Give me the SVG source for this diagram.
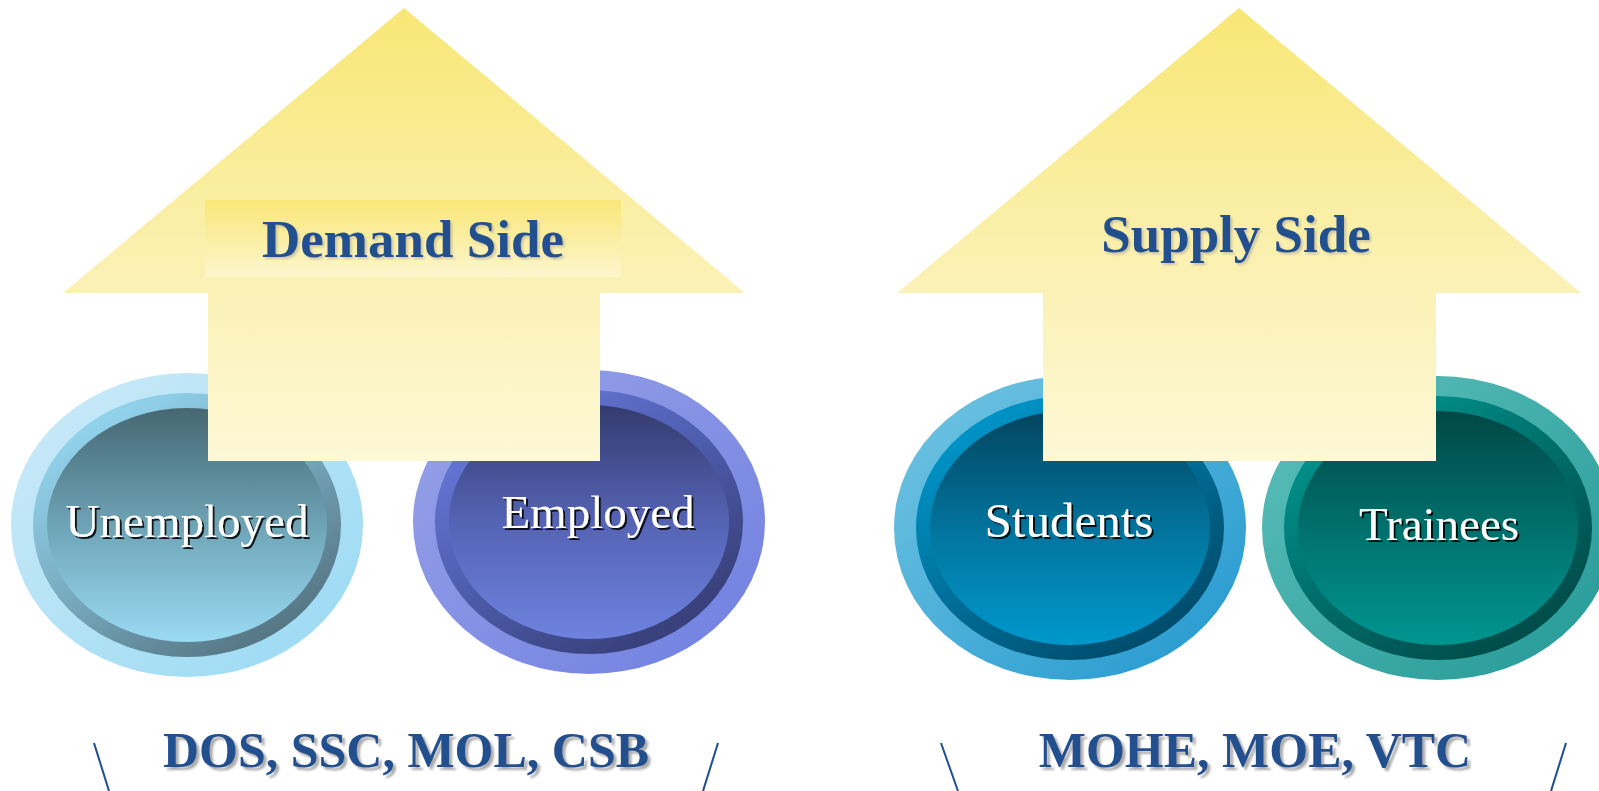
<svg xmlns="http://www.w3.org/2000/svg" width="1599" height="791" viewBox="0 0 1599 791">
<defs>
<linearGradient id="arrowG" x1="0" y1="0" x2="0" y2="1">
<stop offset="0" stop-color="#F8E775"/><stop offset="0.6" stop-color="#FBF1B5"/><stop offset="1" stop-color="#FDF8D6"/>
</linearGradient>
<linearGradient id="bannerG" x1="0" y1="0" x2="0" y2="1">
<stop offset="0" stop-color="#F9E778"/><stop offset="1" stop-color="#FDF6CE"/>
</linearGradient>
<linearGradient id="uO" x1="0" y1="0" x2="1" y2="1"><stop offset="0" stop-color="#CDEBF8"/><stop offset="1" stop-color="#98D9F3"/></linearGradient>
<linearGradient id="uM" x1="0.2" y1="0.1" x2="0.8" y2="0.9"><stop offset="0" stop-color="#92D3EC"/><stop offset="0.5" stop-color="#77A9BE"/><stop offset="1" stop-color="#567684"/></linearGradient>
<linearGradient id="uI" x1="0" y1="0" x2="0" y2="1"><stop offset="0" stop-color="#456772"/><stop offset="0.5" stop-color="#6EA3B6"/><stop offset="1" stop-color="#9ADBF3"/></linearGradient>
<linearGradient id="eO" x1="0" y1="0" x2="1" y2="1"><stop offset="0" stop-color="#99A3E8"/><stop offset="1" stop-color="#6F7FE0"/></linearGradient>
<linearGradient id="eM" x1="0.2" y1="0.1" x2="0.8" y2="0.9"><stop offset="0" stop-color="#6676D6"/><stop offset="0.5" stop-color="#4C5BAA"/><stop offset="1" stop-color="#383F78"/></linearGradient>
<linearGradient id="eI" x1="0" y1="0" x2="0" y2="1"><stop offset="0" stop-color="#343B6E"/><stop offset="0.5" stop-color="#5563B4"/><stop offset="1" stop-color="#6E82DF"/></linearGradient>
<linearGradient id="sO" x1="0" y1="0" x2="1" y2="1"><stop offset="0" stop-color="#74C6E3"/><stop offset="1" stop-color="#2197CE"/></linearGradient>
<linearGradient id="sM" x1="0.2" y1="0.1" x2="0.8" y2="0.9"><stop offset="0" stop-color="#0093C6"/><stop offset="0.5" stop-color="#006E98"/><stop offset="1" stop-color="#004C6C"/></linearGradient>
<linearGradient id="sI" x1="0" y1="0" x2="0" y2="1"><stop offset="0" stop-color="#03455F"/><stop offset="0.5" stop-color="#02739C"/><stop offset="1" stop-color="#0098CC"/></linearGradient>
<linearGradient id="tO" x1="0" y1="0" x2="1" y2="1"><stop offset="0" stop-color="#5EC0BC"/><stop offset="1" stop-color="#239895"/></linearGradient>
<linearGradient id="tM" x1="0.2" y1="0.1" x2="0.8" y2="0.9"><stop offset="0" stop-color="#00928C"/><stop offset="0.5" stop-color="#006C68"/><stop offset="1" stop-color="#004C4A"/></linearGradient>
<linearGradient id="tI" x1="0" y1="0" x2="0" y2="1"><stop offset="0" stop-color="#004846"/><stop offset="0.5" stop-color="#00706C"/><stop offset="1" stop-color="#009590"/></linearGradient>
<filter id="darkSh" x="-10%" y="-20%" width="130%" height="150%"><feDropShadow dx="2" dy="2" stdDeviation="0.3" flood-color="#000" flood-opacity="0.85"/></filter>
<filter id="graySh" x="-10%" y="-20%" width="130%" height="150%"><feDropShadow dx="3" dy="3" stdDeviation="1" flood-color="#888" flood-opacity="0.7"/></filter>
<filter id="lightSh" x="-10%" y="-20%" width="130%" height="150%"><feDropShadow dx="2" dy="2" stdDeviation="0.8" flood-color="#999" flood-opacity="0.5"/></filter>
</defs>
<style>
.circ{font-family:"Liberation Serif","Times New Roman",serif;font-size:47px;fill:#FFFFFF;text-anchor:middle;filter:url(#darkSh)}
.title{font-family:"Liberation Serif","Times New Roman",serif;font-weight:bold;font-size:53px;fill:#21508E;text-anchor:middle}
.agency{font-family:"Liberation Serif","Times New Roman",serif;font-weight:bold;font-size:50px;fill:#21508E;text-anchor:middle;filter:url(#graySh)}
.arrow{fill:url(#arrowG)}
.deco{stroke:#21508E;stroke-width:2;fill:none}
</style>
<rect width="1599" height="791" fill="#FFFFFF"/>

<g id="unemployed">
<ellipse cx="187" cy="525" rx="176" ry="152" fill="url(#uO)"/>
<ellipse cx="187" cy="525" rx="154" ry="132" fill="url(#uM)"/>
<ellipse cx="187" cy="525" rx="140" ry="117" fill="url(#uI)"/>
<text class="circ" x="187" y="537">Unemployed</text>
</g>
<g id="employed">
<ellipse cx="589" cy="522" rx="176" ry="152" fill="url(#eO)"/>
<ellipse cx="589" cy="522" rx="154" ry="132" fill="url(#eM)"/>
<ellipse cx="589" cy="522" rx="140" ry="117" fill="url(#eI)"/>
<text class="circ" x="598" y="528">Employed</text>
</g>
<g id="students">
<ellipse cx="1070" cy="528" rx="176" ry="152" fill="url(#sO)"/>
<ellipse cx="1070" cy="528" rx="154" ry="132" fill="url(#sM)"/>
<ellipse cx="1070" cy="528" rx="140" ry="117" fill="url(#sI)"/>
<text class="circ" x="1069" y="537" style="font-size:49px">Students</text>
</g>
<g id="trainees">
<ellipse cx="1438" cy="528" rx="176" ry="152" fill="url(#tO)"/>
<ellipse cx="1438" cy="528" rx="154" ry="132" fill="url(#tM)"/>
<ellipse cx="1438" cy="528" rx="140" ry="117" fill="url(#tI)"/>
<text class="circ" x="1439" y="540">Trainees</text>
</g>

<g id="demand-arrow">
<polygon class="arrow" points="404,8 745,293 600,293 600,461 208,461 208,293 63,293"/>
<rect x="205" y="200" width="416" height="77" fill="url(#bannerG)"/>
<text class="title" x="413" y="257" filter="url(#lightSh)">Demand Side</text>
</g>
<g id="supply-arrow">
<polygon class="arrow" points="1239,8 1581,293 1436,293 1436,461 1043,461 1043,293 897,293"/>
<text class="title" x="1236" y="252" filter="url(#lightSh)">Supply Side</text>
</g>

<g id="demand-agencies">
<text class="agency" x="406" y="767">DOS, SSC, MOL, CSB</text>
</g>
<g id="supply-agencies">
<text class="agency" x="1255" y="767">MOHE, MOE, VTC</text>
</g>

<g id="connectors">
<line class="deco" x1="94" y1="743" x2="109" y2="791"/>
<line class="deco" x1="718" y1="743" x2="703" y2="791"/>
<line class="deco" x1="941" y1="743" x2="958" y2="791"/>
<line class="deco" x1="1566" y1="743" x2="1551" y2="791"/>
</g>
</svg>
